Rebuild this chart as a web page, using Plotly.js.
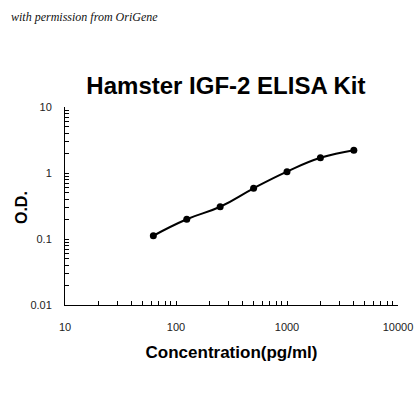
<!DOCTYPE html>
<html>
<head>
<meta charset="utf-8">
<script src="https://cdn.plot.ly/plotly-3.0.1.min.js"></script>
<style>html,body{margin:0;padding:0;background:#fff;}#chart{width:420px;height:420px;}</style>
</head>
<body>
<div id="chart"></div>
<script>
const concentration = [62.5, 125, 250, 500, 1000, 2000, 4000];
const od = [0.112, 0.199, 0.308, 0.586, 1.047, 1.70, 2.22];
const xTickVals = [10, 20, 30, 40, 50, 60, 70, 80, 90, 100, 200, 300, 400, 500, 600, 700, 800, 900, 1000, 2000, 3000, 4000, 5000, 6000, 7000, 8000, 9000, 10000];
const xTickText = ['10', '', '', '', '', '', '', '', '', '100', '', '', '', '', '', '', '', '', '1000', '', '', '', '', '', '', '', '', '10000'];
const yTickVals = [0.01, 0.02, 0.03, 0.04, 0.05, 0.06, 0.07, 0.08, 0.09, 0.1, 0.2, 0.3, 0.4, 0.5, 0.6, 0.7, 0.8, 0.9, 1, 2, 3, 4, 5, 6, 7, 8, 9, 10];
const yTickText = ['0.01', '', '', '', '', '', '', '', '', '0.1', '', '', '', '', '', '', '', '', '1', '', '', '', '', '', '', '', '', '10'];

const trace = {
  x: concentration,
  y: od,
  type: 'scatter',
  mode: 'lines+markers',
  line: {color: '#000', width: 2, shape: 'spline', smoothing: 1.3},
  marker: {color: '#000', size: 7},
  hoverinfo: 'none'
};

const layout = {
  width: 420, height: 420,
  margin: {l: 65, r: 22, t: 107, b: 115},
  paper_bgcolor: '#fff', plot_bgcolor: '#fff',
  font: {family: 'Liberation Sans, Arial, sans-serif', color: '#222', size: 11},
  showlegend: false,
  title: {
    text: '<b>Hamster IGF-2 ELISA Kit</b>',
    font: {family: 'Liberation Sans, Arial, sans-serif', size: 24, color: '#000'},
    x: 0.538, xanchor: 'center', y: 0.797, yanchor: 'middle'
  },
  xaxis: {
    type: 'log', range: [1, 4],
    tickmode: 'array', tickvals: xTickVals, ticktext: xTickText,
    ticks: 'inside', ticklen: 4, tickcolor: '#000', tickwidth: 1,
    showline: true, linecolor: '#000', linewidth: 1,
    showgrid: false, zeroline: false,
    ticklabelstandoff: 12,
    title: {text: '<b>Concentration(pg/ml)</b>', font: {size: 17, color: '#000'}, standoff: 13}
  },
  yaxis: {
    type: 'log', range: [-2, 1],
    tickmode: 'array', tickvals: yTickVals, ticktext: yTickText,
    ticks: 'inside', ticklen: 4, tickcolor: '#000', tickwidth: 1,
    showline: true, linecolor: '#000', linewidth: 1,
    showgrid: false, zeroline: false,
    ticklabelstandoff: 10
  },
  annotations: [{
    text: '<i>with permission from OriGene</i>',
    xref: 'paper', yref: 'paper',
    x: -0.167, y: 1.455, xanchor: 'left', yanchor: 'middle',
    showarrow: false,
    font: {family: 'Liberation Serif, serif', size: 12, color: '#111'}
  }, {
    text: '<b>O.D.</b>',
    xref: 'paper', yref: 'paper',
    x: -0.129, y: 0.49, xanchor: 'center', yanchor: 'middle',
    textangle: -90, showarrow: false,
    font: {family: 'Liberation Sans, Arial, sans-serif', size: 16, color: '#000'}
  }]
};

Plotly.newPlot('chart', [trace], layout, {staticPlot: true, displayModeBar: false});
</script>
</body>
</html>
